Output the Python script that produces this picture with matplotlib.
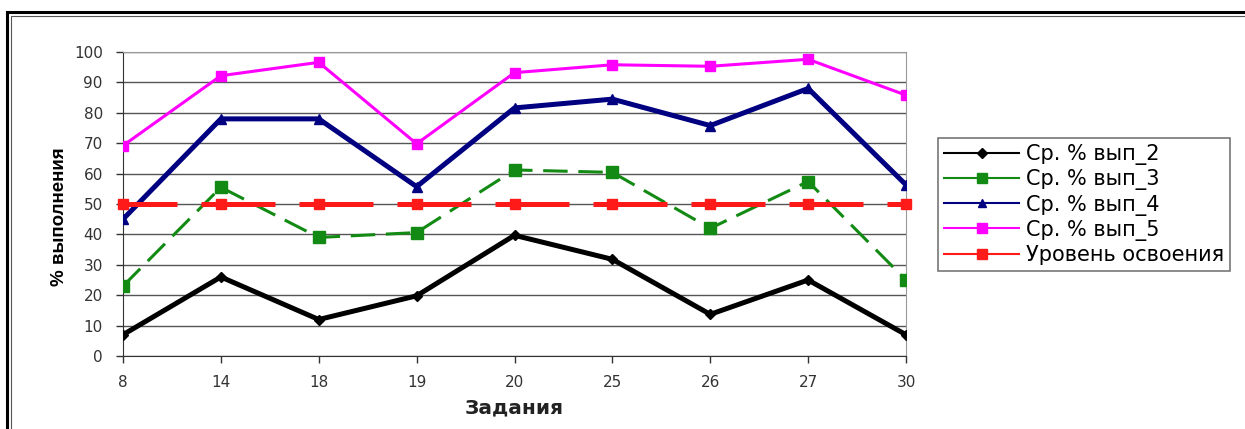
import matplotlib.pyplot as plt
from matplotlib.lines import Line2D
from matplotlib.patches import Rectangle
import numpy as np

plt.rcParams['font.family'] = ['DejaVu Sans']

tasks = ['8', '14', '18', '19', '20', '25', '26', '27', '30']
vyp_2 = [7, 26, 12, 19.8, 39.7, 31.8, 13.7, 25, 7]
vyp_3 = [23, 55.5, 39, 40.6, 61.2, 60.4, 42, 57.4, 25]
vyp_4 = [45, 78, 78, 55.7, 81.6, 84.5, 75.8, 88, 56.3]
vyp_5 = [69.2, 92.2, 96.6, 69.8, 93.2, 95.8, 95.3, 97.6, 85.8]
level = [50] * 9
labels = ['Ср. % вып_2', 'Ср. % вып_3', 'Ср. % вып_4', 'Ср. % вып_5', 'Уровень освоения']

fig = plt.figure(figsize=(12.45, 4.29), dpi=100)
ax = fig.add_axes([123 / 1245, 1 - 356 / 429, (906 - 123) / 1245, (356 - 52) / 429])

# outer frame of the picture
fig.patches.append(Rectangle((7 / 1245, -0.1), 1.2, 1 - 12 / 429 + 0.1, transform=fig.transFigure,
                             fill=False, edgecolor='black', linewidth=2.2, zorder=0))
fig.patches.append(Rectangle((11 / 1245, -0.1), 1.2, 1 - 16 / 429 + 0.1, transform=fig.transFigure,
                             fill=False, edgecolor='#555555', linewidth=0.8, zorder=0))

x = np.arange(len(tasks))

ax.plot(x, vyp_2, color='black', lw=3.6, marker='D', ms=5, zorder=3)
ax.plot(x, vyp_3, color='#138a13', lw=2.2, dashes=(8, 3.5), marker='s', ms=8, zorder=3)
ax.plot(x, vyp_4, color='#000080', lw=3.6, marker='^', ms=7, zorder=3)
ax.plot(x, vyp_5, color='#ff00ff', lw=2.2, marker='s', ms=7, zorder=3)
ax.plot(x, level, color='#ff1a1a', lw=3.6, ls=(4, (14.8, 4.8)), marker='s', ms=7, zorder=4,
        clip_on=False)

ax.set_xlim(0, len(tasks) - 1)
ax.set_ylim(0, 100)
ax.set_xticks(x)
ax.set_xticklabels(tasks)
ax.set_yticks(range(0, 101, 10))
ax.tick_params(axis='both', labelsize=11, colors='#333333', length=5, width=1, direction='out')
ax.tick_params(axis='x', pad=9)
ax.tick_params(axis='y', pad=9.5)
ax.grid(axis='y', color='#555555', lw=1)
ax.set_axisbelow(True)
for s in ['top', 'right']:
    ax.spines[s].set_color('#999999')
for s in ['left', 'bottom']:
    ax.spines[s].set_color('#333333')

ax.set_ylabel('% выполнения', fontsize=13.5, fontweight='bold', family='Liberation Sans')
ax.yaxis.set_label_coords(-0.07, 0.457)
ax.set_xlabel('Задания', fontsize=14.5, fontweight='bold', color='#222222')
ax.xaxis.set_label_coords(0.5, -0.14)

colors = ['black', '#138a13', '#000080', '#ff00ff', '#ff1a1a']
markers = ['D', 's', '^', 's', 's']
sizes = [5, 7, 6, 7, 7]
handles = [Line2D([], [], color=c, marker=m, ms=s, lw=1.5) for c, m, s in zip(colors, markers, sizes)]
leg = fig.legend(handles, labels, loc='upper left', bbox_to_anchor=(938 / 1245, 1 - 138 / 429),
                 fontsize=15, frameon=True, fancybox=False, edgecolor='#555555', borderaxespad=0,
                 handlelength=3.6, handletextpad=0.3, labelspacing=0.2, borderpad=0.3)
leg.get_frame().set_linewidth(1.2)

fig.savefig('out.png', dpi=100)
